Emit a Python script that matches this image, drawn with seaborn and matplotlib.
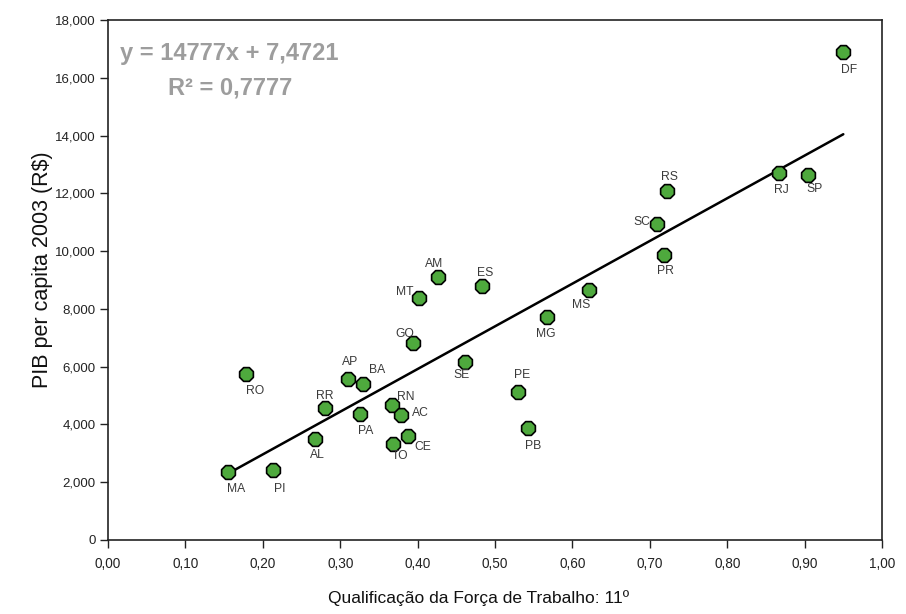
import matplotlib
matplotlib.use("Agg")
import matplotlib.pyplot as plt
import seaborn as sns
import pandas as pd
import numpy as np
from matplotlib.ticker import FuncFormatter, MultipleLocator

states = ["MA", "PI", "AL", "RR", "PA", "AP", "BA", "RO", "RN", "AC", "TO", "CE",
          "GO", "MT", "AM", "ES", "SE", "PE", "PB", "MG", "MS", "RS", "SC", "PR",
          "RJ", "SP", "DF"]
qualificacao = [0.155, 0.213, 0.267, 0.280, 0.325, 0.310, 0.329, 0.178, 0.367, 0.378, 0.368, 0.388,
                0.394, 0.402, 0.427, 0.483, 0.461, 0.530, 0.543, 0.567, 0.621, 0.722, 0.709, 0.718,
                0.867, 0.904, 0.950]
pib = [2357, 2440, 3479, 4552, 4365, 5567, 5394, 5730, 4677, 4331, 3340, 3603,
       6824, 8383, 9089, 8788, 6145, 5106, 3870, 7720, 8650, 12078, 10935, 9872,
       12691, 12632, 16892]
# label offsets in pixels (dx, dy; dy positive = down)
label_dx = [8, 7, 3, 0, 6, 2, 14, 9, 14, 20, 7, 15,
            -8, -14, -4, 3, -3, 4, 5, -1, -8, 3, -15, 2,
            2, 7, 6]
label_dy = [17, 19, 16, -12, 17, -17, -14, 17, -8, -2, 12, 11,
            -9, -6, -13, -13, 13, -17, 18, 17, 15, -14, -2, 16,
            17, 14, 18]

slope = 14777
intercept = 7.4721

df = pd.DataFrame({"x": qualificacao, "y": pib, "uf": states})

sns.set_style("white")
plt.rcParams["font.family"] = ["Liberation Sans", "DejaVu Sans"]

fig = plt.figure(figsize=(9.06, 6.14), dpi=100)
ax = fig.add_axes([108 / 906, 1 - 540 / 614, (882 - 108) / 906, (540 - 20) / 614])

xs = np.array([min(qualificacao), max(qualificacao)])
sns.lineplot(x=xs, y=slope * xs + intercept, ax=ax, color="black", linewidth=1.8, zorder=2)

sns.scatterplot(data=df, x="x", y="y", ax=ax, marker="8", s=115, color="#4ea93d",
                edgecolor="black", linewidth=1.2, zorder=3)

for uf, x, y, dx, dy in zip(states, qualificacao, pib, label_dx, label_dy):
    ax.annotate(uf, (x, y), xytext=(dx * 0.72, -dy * 0.72), textcoords="offset points",
                ha="center", va="center", fontsize=8.7, color="#3a3a3a", zorder=4)

ax.set_xlim(0, 1)
ax.set_ylim(0, 18000)
ax.xaxis.set_major_locator(MultipleLocator(0.1))
ax.yaxis.set_major_locator(MultipleLocator(2000))
ax.xaxis.set_major_formatter(FuncFormatter(lambda v, p: f"{v:.2f}".replace(".", ",")))
ax.yaxis.set_major_formatter(FuncFormatter(lambda v, p: f"{int(round(v)):,}"))

for s in ax.spines.values():
    s.set_color("#222222")
    s.set_linewidth(1.2)

ax.tick_params(axis="both", direction="out", length=6, width=1, color="#222222",
               labelcolor="#222222", left=True, bottom=True)
ax.tick_params(axis="y", labelsize=9.5, pad=3)
ax.tick_params(axis="x", labelsize=9.8, pad=6)

ax.set_xlabel("Qualificação da Força de Trabalho: 11º", fontsize=12.5, color="#111111")
ax.xaxis.label.set_va("center")
ax.xaxis.set_label_coords(0.479, -0.112)
ax.set_ylabel("PIB per capita 2003 (R$)", fontsize=15.5, color="#111111")
ax.yaxis.label.set_va("center")
ax.yaxis.set_label_coords(-0.085, 0.52)

ax.text(0.016, 0.9365, "y = 14777x + 7,4721", transform=ax.transAxes, fontsize=17,
        fontweight="bold", color="#9d9d9d", ha="left", va="center")
ax.text(0.077, 0.87, "R² = 0,7777", transform=ax.transAxes, fontsize=17,
        fontweight="bold", color="#9d9d9d", ha="left", va="center")

fig.savefig("out.png", dpi=100)
